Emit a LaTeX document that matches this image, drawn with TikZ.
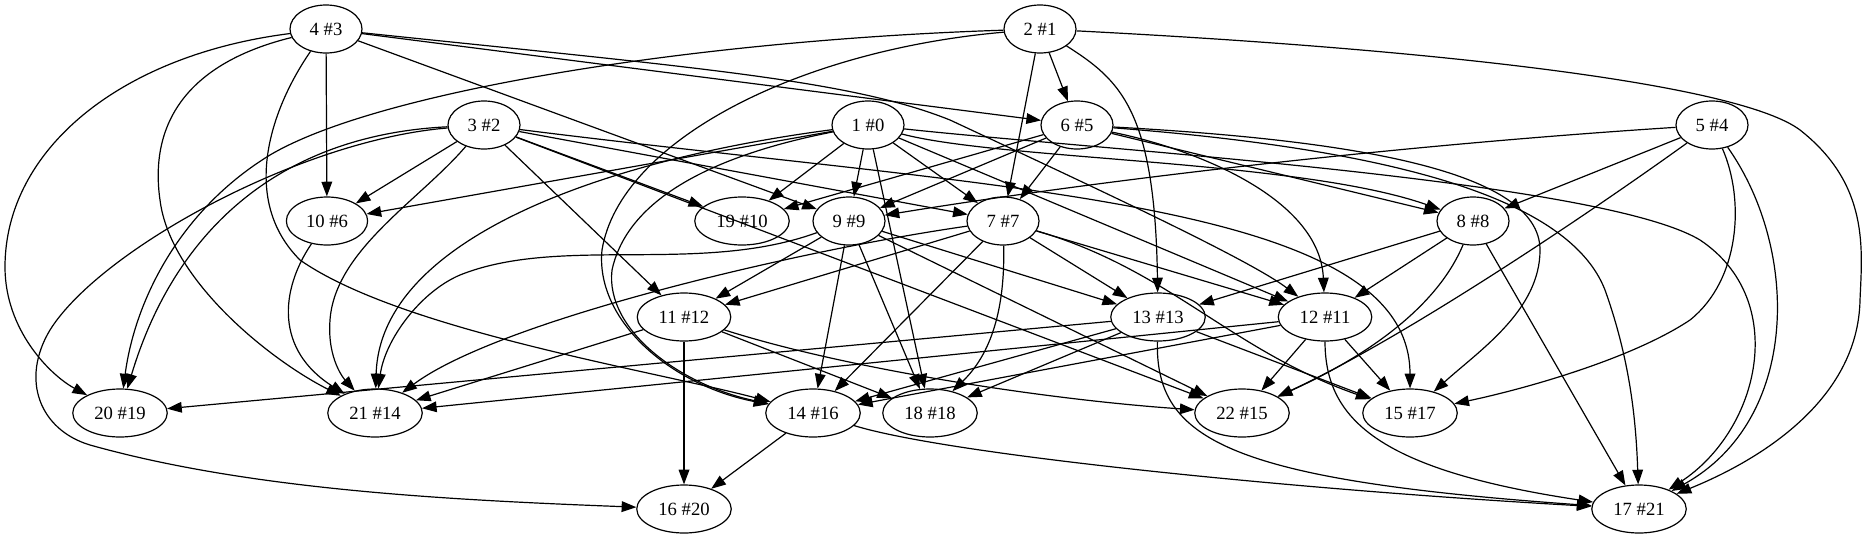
\documentclass[tikz,border=0pt]{standalone}
\usepackage{fontspec}
\setmainfont{Liberation Serif}
\usetikzlibrary{shapes.geometric,arrows.meta}
\begin{document}
\begin{tikzpicture}[x=0.75pt,y=-0.75pt,
  nd/.style={ellipse,draw,line width=0.9pt,minimum width=54pt,minimum height=36pt,inner xsep=5.8pt,inner ysep=2pt,font=\fontsize{14}{16}\selectfont},
  ed/.style={line width=0.9pt,-{Triangle[length=11pt,width=8pt]}}]
\useasboundingbox (0,0) rectangle (1872,539);
\node[nd] (n4) at (326,29) {4 \#3};
\node[nd] (n2) at (1040,29) {2 \#1};
\node[nd] (n3) at (484,125) {3 \#2};
\node[nd] (n1) at (868,125) {1 \#0};
\node[nd] (n6) at (1077,125) {6 \#5};
\node[nd] (n5) at (1712,125) {5 \#4};
\node[nd] (n10) at (327,221) {10 \#6};
\node[nd] (n19) at (742,221) {19 \#10};
\node[nd] (n9) at (849,221) {9 \#9};
\node[nd] (n7) at (1003,221) {7 \#7};
\node[nd] (n8) at (1473,221) {8 \#8};
\node[nd] (n11) at (684,317) {11 \#12};
\node[nd] (n13) at (1158,317) {13 \#13};
\node[nd] (n12) at (1325,317) {12 \#11};
\node[nd] (n20) at (120,413) {20 \#19};
\node[nd] (n21) at (375,413) {21 \#14};
\node[nd] (n14) at (813,413) {14 \#16};
\node[nd] (n18) at (930,413) {18 \#18};
\node[nd] (n22) at (1242,413) {22 \#15};
\node[nd] (n15) at (1410,413) {15 \#17};
\node[nd] (n16) at (684,509) {16 \#20};
\node[nd] (n17) at (1639,509) {17 \#21};
% 4 #3
\draw[ed] (n4) -- (n10);
\draw[ed] (n4) -- (n9);
\draw[ed] (n4) -- (n6);
\draw[ed] (n4) .. controls (700,68) and (850,80) .. (950,120) .. controls (1100,190) and (1250,260) .. (n12);
\draw[ed] (n4) .. controls (120,55) and (5,150) .. (5,267) .. controls (5,330) and (50,375) .. (n20);
\draw[ed] (n4) .. controls (180,65) and (150,130) .. (160,200) .. controls (170,280) and (270,360) .. (n21);
\draw[ed] (n4) .. controls (270,110) and (240,200) .. (300,260) .. controls (400,330) and (650,370) .. (n14);
% 2 #1
\draw[ed] (n2) -- (n6);
\draw[ed] (n2) -- (n7);
\draw[ed] (n2) .. controls (1120,80) and (1155,110) .. (n13);
\draw[ed] (n2) .. controls (1450,50) and (1740,85) .. (1800,130) .. controls (1870,185) and (1862,250) .. (1860,300) .. controls (1858,400) and (1760,460) .. (n17);
\draw[ed] (n2) .. controls (700,40) and (380,90) .. (270,155) .. controls (180,210) and (135,300) .. (n20);
\draw[ed] (n2) .. controls (800,50) and (620,140) .. (602,250) .. controls (595,320) and (670,385) .. (n14);
% 3 #2
\draw[ed] (n3) -- (n10);
\draw[ed] (n3) -- (n19);
\draw[ed] (n3) -- (n7);
\draw[ed] (n3) -- (n11);
\draw[ed] (n3) .. controls (420,200) and (335,250) .. (330,320) .. controls (327,360) and (345,380) .. (n21);
\draw[ed] (n3) .. controls (280,135) and (175,230) .. (n20);
\draw[ed] (n3) .. controls (300,140) and (100,250) .. (50,330) .. controls (20,380) and (40,430) .. (90,445) .. controls (250,490) and (450,500) .. (n16);
\draw[ed] (n3) -- (n22);
\draw[ed] (n3) .. controls (1000,190) and (1410,200) .. (n15);
% 1 #0
\draw[ed] (n1) -- (n10);
\draw[ed] (n1) -- (n19);
\draw[ed] (n1) -- (n9);
\draw[ed] (n1) -- (n7);
\draw[ed] (n1) -- (n18);
\draw[ed] (n1) .. controls (600,160) and (380,240) .. (n21);
\draw[ed] (n1) .. controls (690,160) and (625,210) .. (612,270) .. controls (605,330) and (680,385) .. (n14);
\draw[ed] (n1) -- (n12);
\draw[ed] (n1) .. controls (1000,160) and (1300,160) .. (n8);
\draw[ed] (n1) .. controls (1100,150) and (1600,180) .. (1700,240) .. controls (1790,300) and (1760,430) .. (n17);
% 6 #5
\draw[ed] (n6) -- (n19);
\draw[ed] (n6) -- (n9);
\draw[ed] (n6) -- (n7);
\draw[ed] (n6) -- (n8);
\draw[ed] (n6) .. controls (1200,150) and (1320,200) .. (n12);
\draw[ed] (n6) .. controls (1350,140) and (1540,170) .. (1540,250) .. controls (1540,310) and (1480,350) .. (n15);
\draw[ed] (n6) .. controls (1400,150) and (1570,200) .. (1605,290) .. controls (1630,360) and (1636,420) .. (n17);
% 5 #4
\draw[ed] (n5) .. controls (1400,145) and (1100,180) .. (n9);
\draw[ed] (n5) -- (n8);
\draw[ed] (n5) .. controls (1580,220) and (1400,340) .. (n22);
\draw[ed] (n5) .. controls (1745,200) and (1740,280) .. (1690,320) .. controls (1630,360) and (1520,390) .. (n15);
\draw[ed] (n5) .. controls (1800,250) and (1800,420) .. (n17);
% 10 #6
\draw[ed] (n10) .. controls (280,290) and (275,350) .. (n21);
% 9 #9
\draw[ed] (n9) .. controls (700,275) and (560,235) .. (460,275) .. controls (420,292) and (385,340) .. (n21);
\draw[ed] (n9) -- (n11);
\draw[ed] (n9) -- (n14);
\draw[ed] (n9) -- (n18);
\draw[ed] (n9) -- (n13);
\draw[ed] (n9) -- (n22);
% 7 #7
\draw[ed] (n7) .. controls (800,250) and (500,320) .. (n21);
\draw[ed] (n7) -- (n11);
\draw[ed] (n7) -- (n13);
\draw[ed] (n7) -- (n14);
\draw[ed] (n7) .. controls (1005,300) and (995,350) .. (n18);
\draw[ed] (n7) -- (n12);
\draw[ed] (n7) .. controls (1170,270) and (1230,350) .. (n15);
% 8 #8
\draw[ed] (n8) -- (n13);
\draw[ed] (n8) -- (n12);
\draw[ed] (n8) .. controls (1440,300) and (1380,350) .. (n22);
\draw[ed] (n8) -- (n17);
% 11 #12
\draw[ed] (n11) -- (n21);
\draw[ed] (n11) -- (n16);
\draw[ed] (n11) -- (n18);
\draw[ed] (n11) .. controls (850,370) and (1050,400) .. (n22);
% 13 #13
\draw[ed] (n13) -- (n20);
\draw[ed] (n13) -- (n14);
\draw[ed] (n13) -- (n18);
\draw[ed] (n13) -- (n15);
\draw[ed] (n13) .. controls (1155,440) and (1230,480) .. (n17);
% 12 #11
\draw[ed] (n12) -- (n21);
\draw[ed] (n12) -- (n14);
\draw[ed] (n12) -- (n22);
\draw[ed] (n12) -- (n15);
\draw[ed] (n12) .. controls (1325,420) and (1380,470) .. (n17);
% 14 #16
\draw[ed] (n14) -- (n16);
\draw[ed] (n14) .. controls (950,455) and (1300,490) .. (n17);
\end{tikzpicture}
\end{document}
